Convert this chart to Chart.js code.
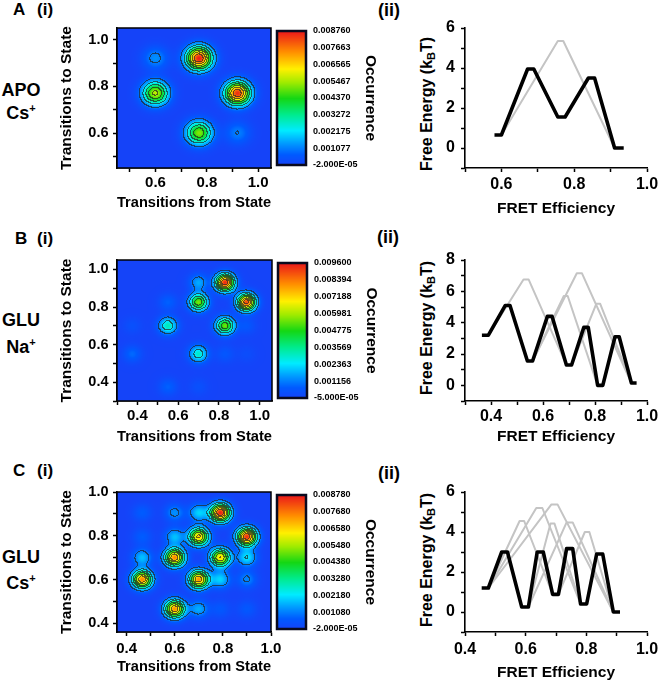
<!DOCTYPE html>
<html>
<head>
<meta charset="utf-8">
<script src="https://cdn.jsdelivr.net/npm/chart.js@4.4.1/dist/chart.umd.min.js"></script>
<style>
  body { margin: 0; background: #fff; }
  #page { position: relative; width: 658px; height: 684px; overflow: hidden;
          font-family: 'Liberation Sans', Arial, sans-serif; font-weight: bold; color: #000; }
  #page canvas { position: absolute; }
  .txt { position: absolute; white-space: nowrap; line-height: 1; }
  .side { position: absolute; left: 0; width: 42px; text-align: center; font-size: 18px; line-height: 1; }
  .ytitle { position: absolute; white-space: nowrap; font-size: 16px; line-height: 1;
            transform: translate(-50%, -50%) rotate(-90deg); }
  sup { font-size: 11px; vertical-align: 7px; line-height: 0; }
  sub { font-size: 11px; vertical-align: -3px; line-height: 0; }
</style>
</head>
<body>
<div id="page">
  <div class="txt" style="left:13px;top:1px;font-size:17px">A</div>
  <div class="txt" style="left:37px;top:1px;font-size:17px">(i)</div>
  <div class="txt" style="left:378px;top:1px;font-size:18px">(ii)</div>
  <div class="side" style="top:81px">APO</div>
  <div class="side" style="top:104px">Cs<sup>+</sup></div>

  <div class="txt" style="left:15px;top:230px;font-size:17px">B</div>
  <div class="txt" style="left:37px;top:230px;font-size:17px">(i)</div>
  <div class="txt" style="left:377px;top:228px;font-size:18px">(ii)</div>
  <div class="side" style="top:311px">GLU</div>
  <div class="side" style="top:338px">Na<sup>+</sup></div>

  <div class="txt" style="left:13px;top:462px;font-size:17px">C</div>
  <div class="txt" style="left:37px;top:462px;font-size:17px">(i)</div>
  <div class="txt" style="left:378px;top:464px;font-size:18px">(ii)</div>
  <div class="side" style="top:548px">GLU</div>
  <div class="side" style="top:574px">Cs<sup>+</sup></div>

  <div class="ytitle" style="left:427px;top:104px">Free Energy (k<sub>B</sub>T)</div>
  <div class="ytitle" style="left:427px;top:328px">Free Energy (k<sub>B</sub>T)</div>
  <div class="ytitle" style="left:427px;top:560px">Free Energy (k<sub>B</sub>T)</div>

  <canvas id="heatA" width="350" height="195" style="left:50px;top:20px"></canvas>
  <canvas id="heatB" width="350" height="200" style="left:50px;top:250px"></canvas>
  <canvas id="heatC" width="350" height="204" style="left:50px;top:480px"></canvas>
  <canvas id="lineA" width="258" height="200" style="left:400px;top:20px"></canvas>
  <canvas id="lineB" width="258" height="200" style="left:400px;top:250px"></canvas>
  <canvas id="lineC" width="258" height="204" style="left:400px;top:480px"></canvas>
</div>
<script>
// ---------- A: APO Cs+ ----------
const heatA_peakX = [0.60, 0.77, 0.60, 0.92, 0.77, 0.92];
const heatA_peakY = [0.92, 0.92, 0.77, 0.77, 0.60, 0.60];
const heatA_peakZ = [0.0013, 0.0087, 0.0057, 0.0085, 0.0052, 0.0011];
const heatA_range = [0.45, 1.05];
const heatA_ticks = [0.5, 0.6, 0.7, 0.8, 0.9, 1.0];
const heatA_tickLabels = [0.6, 0.8, 1.0];
const heatA_bar = ['0.008760', '0.007663', '0.006565', '0.005467', '0.004370',
                   '0.003272', '0.002175', '0.001077', '-2.000E-05'];

const lineA_blackX = [0.581, 0.600, 0.672, 0.689, 0.755, 0.775, 0.839, 0.856, 0.911, 0.936];
const lineA_blackY = [0.65, 0.65, 3.95, 3.95, 1.55, 1.55, 3.50, 3.50, 0, 0];
const lineA_grayX = [[0.600, 0.755, 0.770, 0.911]];
const lineA_grayY = [[0.65, 5.35, 5.35, 0]];
const lineA_xRange = [0.5, 1.0];
const lineA_xTicks = [0.5, 0.6, 0.7, 0.8, 0.9, 1.0];
const lineA_xLabels = [0.6, 0.8, 1.0];
const lineA_yRange = [-1, 6];
const lineA_yTicks = [-1, 0, 1, 2, 3, 4, 5, 6];
const lineA_yLabels = [0, 2, 4, 6];

// ---------- B: GLU Na+ ----------
const heatB_peakX = [0.83, 0.935, 0.70, 0.83, 0.55, 0.70, 0.70, 0.55, 0.375, 0.55, 0.375, 0.935, 0.83, 0.935, 0.70];
const heatB_peakY = [0.93, 0.825, 0.825, 0.70, 0.70, 0.55, 0.93, 0.825, 0.55, 0.375, 0.70, 0.70, 0.55, 0.55, 0.375];
const heatB_peakZ = [0.0094, 0.0090, 0.0056, 0.0055, 0.0032, 0.0030, 0.0017, 0.0008, 0.0009, 0.0008, 0.0004, 0.0006, 0.0006, 0.0003, 0.0004];
const heatB_xRange = [0.3, 1.06];
const heatB_yRange = [0.3, 1.05];
const heatB_ticks = [0.3, 0.4, 0.5, 0.6, 0.7, 0.8, 0.9, 1.0];
const heatB_tickLabels = [0.4, 0.6, 0.8, 1.0];
const heatB_bar = ['0.009600', '0.008394', '0.007188', '0.005981', '0.004775',
                   '0.003569', '0.002363', '0.001156', '-5.000E-05'];

const lineB_blackX = [0.365, 0.390, 0.455, 0.473, 0.540, 0.560, 0.617, 0.635, 0.690, 0.710,
                      0.757, 0.774, 0.810, 0.830, 0.877, 0.893, 0.940, 0.960];
const lineB_blackY = [3.2, 3.2, 5.1, 5.1, 1.55, 1.55, 4.4, 4.4, 1.3, 1.3,
                      3.7, 3.7, 0, 0, 3.1, 3.1, 0.15, 0.15];
const lineB_grayX = [[0.390, 0.525, 0.545, 0.690],
                     [0.560, 0.730, 0.750, 0.940],
                     [0.560, 0.680, 0.695, 0.810],
                     [0.710, 0.805, 0.820, 0.940]];
const lineB_grayY = [[3.2, 6.75, 6.75, 1.3],
                     [1.55, 7.15, 7.15, 0.15],
                     [1.55, 5.7, 5.7, 0],
                     [1.3, 5.2, 5.2, 0.15]];
const lineB_xRange = [0.3, 1.0];
const lineB_xTicks = [0.3, 0.4, 0.5, 0.6, 0.7, 0.8, 0.9, 1.0];
const lineB_xLabels = [0.4, 0.6, 0.8, 1.0];
const lineB_yRange = [-1, 8];
const lineB_yTicks = [-1, 0, 1, 2, 3, 4, 5, 6, 7, 8];
const lineB_yLabels = [0, 2, 4, 6, 8];

// ---------- C: GLU Cs+ ----------
const heatC_peakX = [0.79, 0.90, 0.70, 0.60, 0.79, 0.465, 0.70, 0.60,
                     0.70, 0.60, 0.465, 0.465, 0.60, 0.465, 0.90, 0.79, 0.90, 0.70, 0.79, 0.90];
const heatC_peakY = [0.905, 0.795, 0.795, 0.70, 0.70, 0.60, 0.60, 0.465,
                     0.905, 0.905, 0.905, 0.795, 0.795, 0.70, 0.70, 0.60, 0.60, 0.465, 0.465, 0.465];
const heatC_peakZ = [0.0087, 0.0085, 0.0068, 0.0075, 0.0066, 0.0075, 0.0074, 0.0074,
                     0.0020, 0.0013, 0.0007, 0.0007, 0.0018, 0.0018, 0.0022, 0.0020, 0.0012, 0.0016, 0.0006, 0.0006];
const heatC_range = [0.36, 1.0];
const heatC_ticks = [0.4, 0.5, 0.6, 0.7, 0.8, 0.9, 1.0];
const heatC_tickLabels = [0.4, 0.6, 0.8, 1.0];
const heatC_bar = ['0.008780', '0.007680', '0.006580', '0.005480', '0.004380',
                   '0.003280', '0.002180', '0.001080', '-2.000E-05'];

const lineC_blackX = [0.455, 0.477, 0.521, 0.540, 0.587, 0.609, 0.638, 0.658, 0.689, 0.708,
                      0.735, 0.755, 0.781, 0.801, 0.834, 0.854, 0.889, 0.911];
const lineC_blackY = [1.2, 1.2, 3.0, 3.0, 0.25, 0.25, 3.0, 3.0, 0.88, 0.88,
                      3.17, 3.17, 0.4, 0.4, 2.9, 2.9, 0, 0];
const lineC_grayX = [[0.477, 0.580, 0.595, 0.689],
                     [0.477, 0.635, 0.655, 0.781],
                     [0.477, 0.685, 0.705, 0.889],
                     [0.609, 0.682, 0.695, 0.781],
                     [0.609, 0.735, 0.755, 0.889],
                     [0.708, 0.795, 0.810, 0.889]];
const lineC_grayY = [[1.2, 4.55, 4.55, 0.88],
                     [1.2, 5.2, 5.2, 0.4],
                     [1.2, 5.38, 5.38, 0],
                     [0.25, 4.42, 4.42, 0.4],
                     [0.25, 4.48, 4.48, 0],
                     [0.88, 4.0, 4.0, 0]];
const lineC_xRange = [0.4, 1.0];
const lineC_xTicks = [0.4, 0.5, 0.6, 0.7, 0.8, 0.9, 1.0];
const lineC_xLabels = [0.4, 0.6, 0.8, 1.0];
const lineC_yRange = [-1, 6];
const lineC_yTicks = [-1, 0, 1, 2, 3, 4, 5, 6];
const lineC_yLabels = [0, 2, 4, 6];

// ---------- styling ----------
const FONT = "'Liberation Sans', Arial, sans-serif";
const RAINBOW = [
  [0.00, [22, 66, 248]],
  [0.08, [0, 90, 255]],
  [0.16, [0, 150, 255]],
  [0.26, [0, 235, 255]],
  [0.38, [0, 235, 140]],
  [0.50, [20, 215, 20]],
  [0.62, [160, 235, 0]],
  [0.72, [255, 240, 0]],
  [0.85, [255, 140, 0]],
  [1.00, [235, 25, 25]],
];

function rainbow(t) {
  t = Math.max(0, Math.min(1, t));
  for (let i = 1; i < RAINBOW.length; i++) {
    if (t <= RAINBOW[i][0]) {
      const [t0, c0] = RAINBOW[i - 1], [t1, c1] = RAINBOW[i];
      const f = (t - t0) / (t1 - t0);
      return c0.map((c, k) => Math.round(c + (c1[k] - c) * f));
    }
  }
  return RAINBOW[RAINBOW.length - 1][1];
}

const zip = (xs, ys) => xs.map((x, i) => ({ x, y: ys[i] }));
const near = (list, v) => list.some(l => Math.abs(l - v) < 1e-6);

// density map + contours + colour bar, all placed through the chart scales
const heatPlugin = {
  id: 'heat',
  beforeDatasetsDraw(chart) {
    const o = chart.options.plugins.heat;
    const { ctx, chartArea: a, scales } = chart;
    const w = Math.round(a.right - a.left), h = Math.round(a.bottom - a.top);
    const levels = o.bar.map(parseFloat);
    const zTop = levels[0], zBot = levels[levels.length - 1];
    const s2 = 2 * o.sigma * o.sigma;
    const field = new Float32Array(w * h);
    for (let j = 0; j < h; j++) {
      const yv = scales.y.getValueForPixel(a.top + j + 0.5);
      for (let i = 0; i < w; i++) {
        const xv = scales.x.getValueForPixel(a.left + i + 0.5);
        let v = 0;
        for (let k = 0; k < o.px.length; k++) {
          const dx = xv - o.px[k], dy = yv - o.py[k];
          v += o.pz[k] * Math.exp(-(dx * dx + dy * dy) / s2);
        }
        field[j * w + i] = v;
      }
    }
    const lvl = new Uint8Array(w * h);
    for (let p = 0; p < w * h; p++) {
      let n = 0;
      for (let k = 0; k < levels.length - 1; k++) if (field[p] >= levels[k]) n++;
      lvl[p] = n;
    }
    const off = document.createElement('canvas');
    off.width = w; off.height = h;
    const octx = off.getContext('2d');
    const img = octx.createImageData(w, h);
    for (let j = 0; j < h; j++) {
      for (let i = 0; i < w; i++) {
        const p = j * w + i;
        let c = rainbow((field[p] - zBot) / (zTop - zBot));
        const edge = (i < w - 1 && lvl[p] !== lvl[p + 1]) || (j < h - 1 && lvl[p] !== lvl[p + w]);
        if (edge) c = c.map(v => Math.round(v * 0.3 + 35 * 0.7));
        img.data[p * 4] = c[0]; img.data[p * 4 + 1] = c[1];
        img.data[p * 4 + 2] = c[2]; img.data[p * 4 + 3] = 255;
      }
    }
    octx.putImageData(img, 0, 0);
    ctx.drawImage(off, a.left, a.top, a.right - a.left, a.bottom - a.top);
  },
  afterDraw(chart) {
    const o = chart.options.plugins.heat;
    const { ctx, chartArea: a } = chart;
    ctx.save();
    ctx.strokeStyle = '#000';
    ctx.lineWidth = 1.5;
    ctx.strokeRect(a.left, a.top, a.right - a.left, a.bottom - a.top);

    const x0 = a.right + 6, x1 = a.right + 35;
    const y0 = a.top + 3, y1 = a.bottom - 3;
    for (let y = y0; y < y1; y++) {
      const c = rainbow(1 - (y - y0) / (y1 - y0));
      ctx.fillStyle = `rgb(${c[0]},${c[1]},${c[2]})`;
      ctx.fillRect(x0, y, x1 - x0, 1.2);
    }
    ctx.lineWidth = 2.5;
    ctx.strokeStyle = '#0a0a1e';
    ctx.strokeRect(x0, y0, x1 - x0, y1 - y0);

    ctx.fillStyle = '#000';
    ctx.font = `bold 9px ${FONT}`;
    ctx.textAlign = 'left';
    ctx.textBaseline = 'middle';
    const n = o.bar.length;
    o.bar.forEach((s, i) => ctx.fillText(s, x1 + 7, y0 + i * (y1 - y0) / (n - 1)));

    ctx.translate(a.right + 99, (y0 + y1) / 2);
    ctx.rotate(Math.PI / 2);
    ctx.font = `bold 15.5px ${FONT}`;
    ctx.textAlign = 'center';
    ctx.fillText('Occurrence', 0, 0);
    ctx.restore();
  }
};

function axis(c) {
  return {
    type: 'linear',
    min: c.range[0], max: c.range[1],
    afterBuildTicks: s => { s.ticks = c.ticks.map(v => ({ value: v })); },
    afterFit: s => {
      if (c.vertical) s.width = c.size; else s.height = c.size;
      s.paddingLeft = s.paddingRight = s.paddingTop = s.paddingBottom = 0;
    },
    grid: { display: true, drawOnChartArea: false, drawTicks: true, tickLength: 4,
            tickColor: '#000', tickWidth: 1.5 },
    border: { display: true, color: '#000', width: 1.6 },
    ticks: {
      autoSkip: false, maxRotation: 0, minRotation: 0, color: '#000', padding: c.tickPad,
      font: { family: FONT, weight: 'bold', size: c.fontSize },
      callback: v => near(c.labels, v) ? v.toFixed(c.dec) : ''
    },
    title: {
      display: !!c.title, text: c.title, color: '#000',
      font: { family: FONT, weight: 'bold', size: 15.5 },
      padding: c.vertical ? { top: c.titlePad } : { bottom: c.titlePad }
    }
  };
}

function heatChart(id, d) {
  return new Chart(document.getElementById(id), {
    type: 'scatter',
    data: { datasets: [{ data: zip(d.px, d.py), pointRadius: 0 }] },
    options: {
      responsive: false, animation: false, events: [],
      layout: { padding: { top: d.padTop, right: d.padRight, left: 0, bottom: 0 } },
      plugins: {
        legend: { display: false }, tooltip: { enabled: false },
        heat: { px: d.px, py: d.py, pz: d.pz, sigma: d.sigma, bar: d.bar }
      },
      scales: {
        x: axis({ range: d.xRange, ticks: d.ticks, labels: d.labels, dec: 1, fontSize: 15,
                  tickPad: d.xTickPad, title: 'Transitions from State', titlePad: d.xTitlePad,
                  size: d.xSize }),
        y: axis({ range: d.yRange, ticks: d.ticks, labels: d.labels, dec: 1, fontSize: 14.5,
                  tickPad: 4.5, title: 'Transitions to State', titlePad: 7.7,
                  size: 67, vertical: true })
      }
    },
    plugins: [heatPlugin]
  });
}

function lineChart(id, d) {
  const datasets = [{ data: zip(d.bx, d.by), borderColor: '#000', borderWidth: 3.6,
                      borderJoinStyle: 'round', pointRadius: 0, showLine: true, order: 0 }];
  d.gx.forEach((gx, i) => datasets.push({
    data: zip(gx, d.gy[i]), borderColor: '#c4c4c4', borderWidth: 2,
    borderJoinStyle: 'round', pointRadius: 0, showLine: true, order: 1
  }));
  return new Chart(document.getElementById(id), {
    type: 'scatter',
    data: { datasets },
    options: {
      responsive: false, animation: false, events: [],
      layout: { padding: { top: d.padTop, right: 11, left: 0, bottom: 0 } },
      plugins: { legend: { display: false }, tooltip: { enabled: false } },
      scales: {
        x: axis({ range: d.xRange, ticks: d.xTicks, labels: d.xLabels, dec: 1, fontSize: 16,
                  tickPad: d.xTickPad, title: 'FRET Efficiency', titlePad: d.xTitlePad,
                  size: d.xSize }),
        y: axis({ range: d.yRange, ticks: d.yTicks, labels: d.yLabels, dec: 0, fontSize: 16,
                  tickPad: 6, title: '', size: 65, vertical: true })
      }
    }
  });
}

heatChart('heatA', { px: heatA_peakX, py: heatA_peakY, pz: heatA_peakZ, sigma: 0.034, bar: heatA_bar,
  xRange: heatA_range, yRange: heatA_range, ticks: heatA_ticks, labels: heatA_tickLabels,
  padTop: 8, padRight: 129, xSize: 47, xTickPad: 2, xTitlePad: 2.7 });
heatChart('heatB', { px: heatB_peakX, py: heatB_peakY, pz: heatB_peakZ, sigma: 0.031, bar: heatB_bar,
  xRange: heatB_xRange, yRange: heatB_yRange, ticks: heatB_ticks, labels: heatB_tickLabels,
  padTop: 10, padRight: 128, xSize: 49, xTickPad: 2, xTitlePad: 3.7 });
heatChart('heatC', { px: heatC_peakX, py: heatC_peakY, pz: heatC_peakZ, sigma: 0.028, bar: heatC_bar,
  xRange: heatC_range, yRange: heatC_range, ticks: heatC_ticks, labels: heatC_tickLabels,
  padTop: 12, padRight: 129, xSize: 52, xTickPad: 4, xTitlePad: 7.7 });

lineChart('lineA', { bx: lineA_blackX, by: lineA_blackY, gx: lineA_grayX, gy: lineA_grayY,
  xRange: lineA_xRange, xTicks: lineA_xTicks, xLabels: lineA_xLabels,
  yRange: lineA_yRange, yTicks: lineA_yTicks, yLabels: lineA_yLabels,
  padTop: 8, xSize: 52, xTickPad: 3.4, xTitlePad: 2.4 });
lineChart('lineB', { bx: lineB_blackX, by: lineB_blackY, gx: lineB_grayX, gy: lineB_grayY,
  xRange: lineB_xRange, xTicks: lineB_xTicks, xLabels: lineB_xLabels,
  yRange: lineB_yRange, yTicks: lineB_yTicks, yLabels: lineB_yLabels,
  padTop: 10, xSize: 49, xTickPad: 2.4, xTitlePad: 4.4 });
lineChart('lineC', { bx: lineC_blackX, by: lineC_blackY, gx: lineC_grayX, gy: lineC_grayY,
  xRange: lineC_xRange, xTicks: lineC_xTicks, xLabels: lineC_xLabels,
  yRange: lineC_yRange, yTicks: lineC_yTicks, yLabels: lineC_yLabels,
  padTop: 12, xSize: 52, xTickPad: 4.4, xTitlePad: 2.4 });
</script>
</body>
</html>
